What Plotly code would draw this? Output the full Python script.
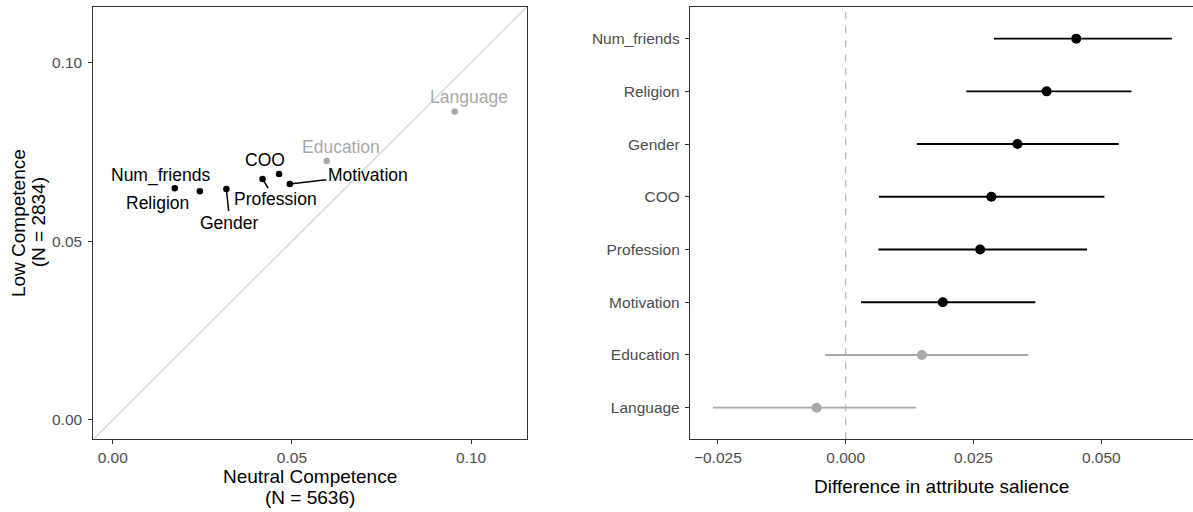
import plotly.graph_objects as go

# ---------------- data ----------------
attributes = ["Num_friends", "Religion", "Gender", "Profession", "COO",
              "Motivation", "Education", "Language"]
neutral_comp = [0.0173, 0.0243, 0.0317, 0.0418, 0.0464, 0.0494, 0.0597, 0.0954]
low_comp = [0.0648, 0.0640, 0.0646, 0.0674, 0.0688, 0.0660, 0.0724, 0.0863]

diff_order = ["Num_friends", "Religion", "Gender", "COO", "Profession",
              "Motivation", "Education", "Language"]
diff_est = [0.0451, 0.0393, 0.0336, 0.0285, 0.0263, 0.0190, 0.0149, -0.0057]
diff_lo = [0.0290, 0.0236, 0.0139, 0.0065, 0.0064, 0.0030, -0.0040, -0.0260]
diff_hi = [0.0638, 0.0559, 0.0534, 0.0506, 0.0472, 0.0371, 0.0357, 0.0138]
not_sig = ["Education", "Language"]

x_ticks_left = [0.00, 0.05, 0.10]
x_ticks_right = [-0.025, 0.000, 0.025, 0.050]

# ---------------- style ----------------
W, H = 1193, 512
FONT = "Liberation Sans"
BLACK = "#000000"
GREY = "#A9A9A9"
TICKCOL = "#4D4D4D"
BORDER = "#333333"
rng_left = [-0.0054, 0.1155]
rng_right = [-0.03046, 0.06794]

# label placement (pixel offsets from the point)
label_off = {
    "Num_friends": dict(dx=-14, dy=-13, seg=False),
    "Religion": dict(dx=-42, dy=12, seg=False),
    "Gender": dict(dx=3.5, dy=33.5, seg=True),
    "Profession": dict(dx=12.5, dy=20.5, seg=True),
    "COO": dict(dx=-14.5, dy=-14, seg=False),
    "Motivation": dict(dx=78, dy=-9, seg=True),
    "Education": dict(dx=14, dy=-14, seg=False),
    "Language": dict(dx=14, dy=-14, seg=False),
}

def col(a):
    return GREY if a in not_sig else BLACK

fig = go.Figure()

# diagonal y = x
fig.add_trace(go.Scatter(x=rng_left, y=rng_left, mode="lines",
                         line=dict(color="#CCCCCC", width=1.1),
                         xaxis="x", yaxis="y", hoverinfo="skip", showlegend=False))
# left points
fig.add_trace(go.Scatter(x=neutral_comp, y=low_comp, mode="markers",
                         marker=dict(size=6.5, color=[col(a) for a in attributes]),
                         xaxis="x", yaxis="y", showlegend=False))

# right panel: zero line
fig.add_trace(go.Scatter(x=[0, 0], y=[-0.6, 7.6], mode="lines",
                         line=dict(color="#ABABAB", width=1.1, dash="7px,7px"),
                         xaxis="x2", yaxis="y3", hoverinfo="skip", showlegend=False))

for group, c in [(False, BLACK), (True, GREY)]:
    idx = [i for i, a in enumerate(diff_order) if (a in not_sig) == group]
    fig.add_trace(go.Scatter(
        x=[diff_est[i] for i in idx],
        y=[diff_order[i] for i in idx],
        mode="markers",
        marker=dict(size=10, color=c),
        error_x=dict(type="data", symmetric=False,
                     array=[diff_hi[i] - diff_est[i] for i in idx],
                     arrayminus=[diff_est[i] - diff_lo[i] for i in idx],
                     color=c, thickness=1.9, width=0),
        xaxis="x2", yaxis="y2", showlegend=False))

annotations = []
for a, xv, yv in zip(attributes, neutral_comp, low_comp):
    o = label_off[a]
    if o["seg"]:
        annotations.append(dict(x=xv, y=yv, xref="x", yref="y", text=a,
                                showarrow=True, ax=o["dx"], ay=o["dy"],
                                arrowhead=0, arrowwidth=1.5, arrowcolor=col(a),
                                standoff=2, startstandoff=0,
                                font=dict(family=FONT, size=17.5, color=col(a))))
    else:
        annotations.append(dict(x=xv, y=yv, xref="x", yref="y", text=a,
                                showarrow=False, xshift=o["dx"], yshift=-o["dy"],
                                xanchor="center", yanchor="middle",
                                font=dict(family=FONT, size=17.5, color=col(a))))

def pann(text, px, py, angle=0, size=19):
    annotations.append(dict(x=px / W, y=1 - py / H, xref="paper", yref="paper",
                            text=text, showarrow=False, textangle=angle,
                            xanchor="center", yanchor="middle",
                            font=dict(family=FONT, size=size, color="#000000")))

pann("Neutral Competence", 310, 476.7)
pann("(N = 5636)", 310, 497.3)
pann("Low Competence", 18.4, 222.7, angle=-90)
pann("(N = 2834)", 38.6, 222.7, angle=-90)
pann("Difference in attribute salience", 941.5, 486.7)

ydom = [1 - 439.3 / H, 1 - 7 / H]
axis_common = dict(showgrid=False, zeroline=False, ticks="outside", ticklen=4,
                   tickwidth=1.1, tickcolor=BORDER, showline=True,
                   linecolor=BORDER, linewidth=1.3,
                   tickfont=dict(family=FONT, size=15.5, color=TICKCOL))

fig.update_layout(
    width=W, height=H, margin=dict(l=0, r=0, t=0, b=0),
    paper_bgcolor="white", plot_bgcolor="white",
    xaxis=dict(domain=[93.4 / W, 526.7 / W], range=rng_left, anchor="y",
               tickvals=x_ticks_left, ticktext=["%.2f" % v for v in x_ticks_left],
               mirror=True, **axis_common),
    yaxis=dict(domain=ydom, range=rng_left, anchor="x",
               tickvals=x_ticks_left, ticktext=["%.2f" % v for v in x_ticks_left],
               mirror=True, ticklabelstandoff=3, **axis_common),
    xaxis2=dict(domain=[690 / W, 1.0], range=rng_right, anchor="y2",
                tickvals=x_ticks_right,
                ticktext=["\u22120.025", "0.000", "0.025", "0.050"],
                mirror=True, **axis_common),
    yaxis2=dict(domain=ydom, range=[-0.6, 7.6], anchor="x2", type="category",
                categoryorder="array", categoryarray=diff_order[::-1],
                mirror=False, ticklabelstandoff=2, **axis_common),
    yaxis3=dict(domain=ydom, range=[-0.6, 7.6], anchor="x2", overlaying="y2",
                visible=False),
    annotations=annotations,
)

fig.write_html("out.html")
